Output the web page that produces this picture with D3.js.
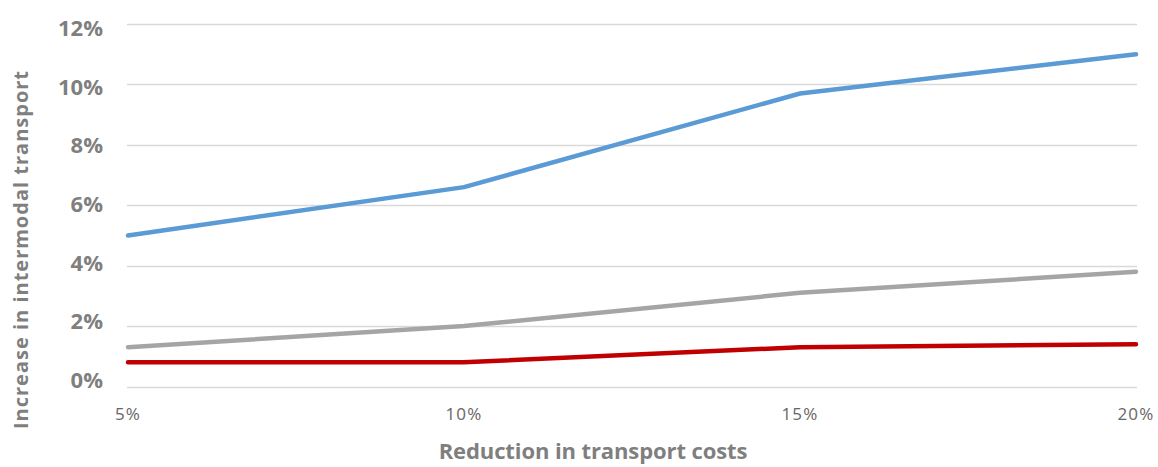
<!DOCTYPE html>
<html>
<head>
<style>
  body { margin: 0; background: #fff; }
  text { font-family: "Open Sans", Lato, sans-serif; }
</style>
</head>
<body>
<script src="https://cdn.jsdelivr.net/npm/d3@7"></script>
<script>
var width = 1158, height = 467;

// data
var categories = [0.05, 0.10, 0.15, 0.20];
var blueValues = [0.050, 0.066, 0.097, 0.110];
var greyValues = [0.013, 0.020, 0.031, 0.038];
var redValues = [0.008, 0.008, 0.013, 0.014];
var yTicks = [0, 0.02, 0.04, 0.06, 0.08, 0.10, 0.12];
var seriesColors = ['#5b9bd5', '#a5a5a5', '#c00000'];

var series = [blueValues, greyValues, redValues];

var svg = d3.select('body').append('svg')
    .attr('width', width).attr('height', height);

var xScale = d3.scaleLinear().domain([0.05, 0.20]).range([128, 1136]);
var yScale = d3.scaleLinear().domain([0, 0.12]).range([386.5, 24]);
// tick labels sit on a slightly tighter spacing than the gridlines
var yLabelScale = d3.scaleLinear().domain([0, 0.12]).range([380, 28]);
var pct = d3.format('.0%');

// gridlines
svg.selectAll('line.grid')
    .data(yTicks)
    .enter().append('line')
    .attr('class', 'grid')
    .attr('x1', 127).attr('x2', 1137)
    .attr('y1', function (d) { return Math.round(yScale(d)) + 0.5; })
    .attr('y2', function (d) { return Math.round(yScale(d)) + 0.5; })
    .attr('stroke', '#d9d9d9')
    .attr('stroke-width', 1.5);

// y tick labels
svg.selectAll('text.ytick')
    .data(yTicks)
    .enter().append('text')
    .attr('class', 'ytick')
    .attr('x', 103)
    .attr('y', function (d) { return yLabelScale(d); })
    .attr('dy', '0.36em')
    .attr('text-anchor', 'end')
    .attr('font-size', 22)
    .attr('font-weight', 'bold')
    .attr('fill', '#7f7f7f')
    .text(pct);

// x tick labels
svg.selectAll('text.xtick')
    .data(categories)
    .enter().append('text')
    .attr('class', 'xtick')
    .attr('x', function (d) { return xScale(d); })
    .attr('y', 420)
    .attr('text-anchor', 'middle')
    .attr('font-size', 17)
    .attr('letter-spacing', 1.2)
    .attr('fill', '#666666')
    .text(pct);

// lines
var line = d3.line()
    .x(function (d, i) { return xScale(categories[i]); })
    .y(function (d) { return yScale(d); });

svg.selectAll('path.series')
    .data(series)
    .enter().append('path')
    .attr('class', 'series')
    .attr('d', line)
    .attr('fill', 'none')
    .attr('stroke', function (d, i) { return seriesColors[i]; })
    .attr('stroke-width', 4.5)
    .attr('stroke-linejoin', 'round')
    .attr('stroke-linecap', 'round');

// axis titles
svg.append('text')
    .attr('transform', 'translate(28,249.5) rotate(-90)')
    .attr('text-anchor', 'middle')
    .attr('font-size', 20)
    .attr('letter-spacing', 1)
    .attr('font-weight', 'bold')
    .attr('fill', '#7f7f7f')
    .text('Increase in intermodal transport');

svg.append('text')
    .attr('x', 593)
    .attr('y', 459)
    .attr('text-anchor', 'middle')
    .attr('font-size', 22)
    .attr('letter-spacing', -0.1)
    .attr('font-weight', 'bold')
    .attr('fill', '#7f7f7f')
    .text('Reduction in transport costs');
</script>
</body>
</html>
